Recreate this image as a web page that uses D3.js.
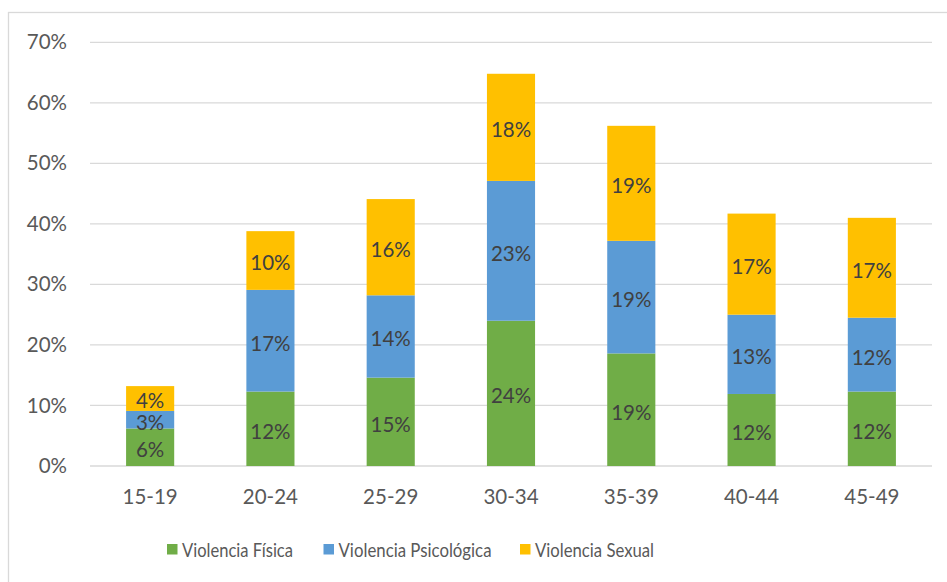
<!DOCTYPE html>
<html>
<head>
<meta charset="utf-8">
<script src="https://cdn.jsdelivr.net/npm/d3@7"></script>
<style>
  html, body { margin: 0; padding: 0; background: #fff; }
  svg { display: block; font-family: Lato, "Open Sans", sans-serif; }
</style>
</head>
<body>
<svg id="chart" width="947" height="582"></svg>
<script>
// Age groups and the share of each type of violence (percent)
const categories = ["15-19", "20-24", "25-29", "30-34", "35-39", "40-44", "45-49"];
const fisica     = [6.2, 12.3, 14.6, 24.0, 18.6, 11.9, 12.3];
const psicologica = [2.9, 16.8, 13.6, 23.1, 18.6, 13.1, 12.2];
const sexual     = [4.1, 9.7, 15.9, 17.7, 19.0, 16.7, 16.5];
const seriesNames = ["Violencia Física", "Violencia Psicológica", "Violencia Sexual"];
const seriesColors = ["#70ad47", "#5b9bd5", "#ffc000"];
const yTicks = [0, 10, 20, 30, 40, 50, 60, 70];

const svg = d3.select("#chart");
const W = 947, H = 582;
const plot = { left: 90, right: 932, top: 42.3, bottom: 466 };
const FS = 20.5;

// Outer chart frame (open on the right and bottom edges of the canvas)
svg.append("rect")
  .attr("x", 8.5).attr("y", 12.5)
  .attr("width", W + 10).attr("height", H + 10)
  .attr("fill", "none").attr("stroke", "#d9d9d9").attr("stroke-width", 1.3);

const x = d3.scaleBand().domain(categories)
  .range([plot.left, plot.right]).paddingInner(0.6).paddingOuter(0.3);
const y = d3.scaleLinear().domain([0, 70]).range([plot.bottom, plot.top]);

// Horizontal gridlines
svg.append("g").selectAll("line").data(yTicks).join("line")
  .attr("x1", plot.left).attr("x2", plot.right)
  .attr("y1", d => y(d)).attr("y2", d => y(d))
  .attr("stroke", "#d9d9d9").attr("stroke-width", 1.3);

// Y axis labels
const yAxis = d3.axisLeft(y).tickValues(yTicks).tickFormat(d => d + "%").tickSize(0).tickPadding(0);
const gy = svg.append("g").attr("transform", `translate(${67},0)`).call(yAxis);
gy.select(".domain").remove();
gy.selectAll("text").attr("font-size", FS).attr("fill", "#595959")
  .attr("font-family", "Lato, 'Open Sans', sans-serif");

// X axis labels
const xAxis = d3.axisBottom(x).tickSize(0).tickPadding(0);
const gx = svg.append("g").attr("transform", `translate(0,${489})`).call(xAxis);
gx.select(".domain").remove();
gx.selectAll("text").attr("font-size", FS).attr("fill", "#595959")
  .attr("font-family", "Lato, 'Open Sans', sans-serif");

// Stacked bars
const rows = categories.map((c, i) => ({
  cat: c,
  [seriesNames[0]]: fisica[i],
  [seriesNames[1]]: psicologica[i],
  [seriesNames[2]]: sexual[i]
}));
const stacked = d3.stack().keys(seriesNames)(rows);

const layers = svg.append("g").selectAll("g").data(stacked).join("g")
  .attr("fill", (d, i) => seriesColors[i]);

layers.selectAll("rect").data(d => d).join("rect")
  .attr("x", d => x(d.data.cat))
  .attr("width", x.bandwidth())
  .attr("y", d => y(d[1]))
  .attr("height", d => y(d[0]) - y(d[1]));

// Value labels centred in each segment
const fmt = v => Math.round(v) + "%";
const labels = svg.append("g");
stacked.forEach(layer => {
  layer.forEach(d => {
    labels.append("text")
      .attr("x", x(d.data.cat) + x.bandwidth() / 2)
      .attr("y", (y(d[0]) + y(d[1])) / 2 + 2.5)
      .attr("dy", "0.36em")
      .attr("text-anchor", "middle")
      .attr("font-size", FS)
      .attr("fill", "#404040")
      .text(fmt(d[1] - d[0]));
  });
});

// Legend
const legendX = [167, 323.5, 520];
const legendW = [111, 153, 119];
const legend = svg.append("g");
seriesNames.forEach((name, i) => {
  const g = legend.append("g").attr("transform", `translate(${legendX[i]},544)`);
  g.append("rect").attr("width", 10.5).attr("height", 10.5).attr("fill", seriesColors[i]);
  g.append("text").attr("x", 15).attr("y", 12.7)
    .attr("font-size", 20).attr("fill", "#595959")
    .attr("textLength", legendW[i]).attr("lengthAdjust", "spacingAndGlyphs")
    .text(name);
});
</script>
</body>
</html>
